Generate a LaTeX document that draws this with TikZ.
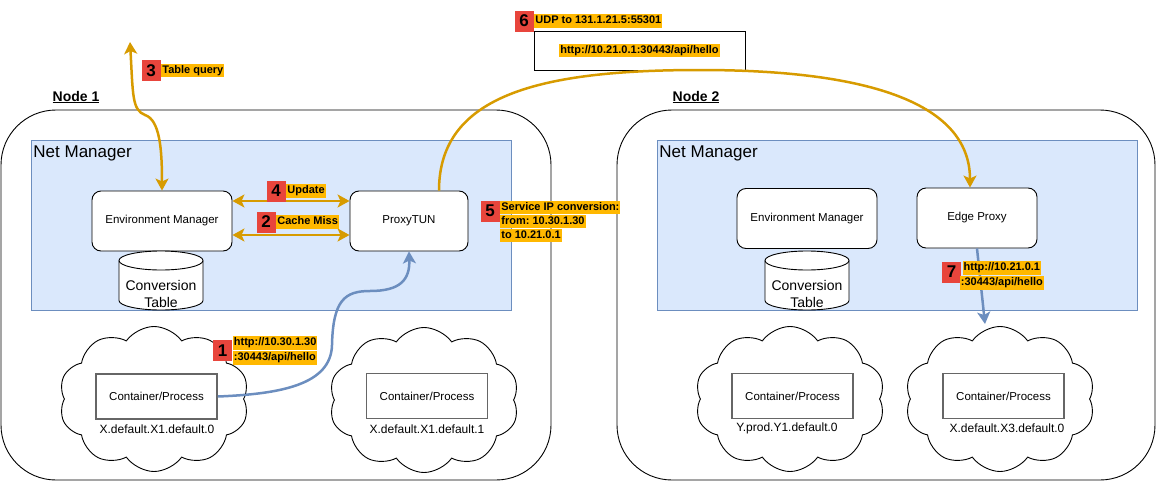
\documentclass[tikz,border=0pt]{standalone}
\usepackage{fontspec}
\setmainfont{Liberation Sans}
\usetikzlibrary{arrows.meta,shapes.symbols}
\definecolor{nmfill}{HTML}{DAE8FC}
\definecolor{nmline}{HTML}{6C8EBF}
\definecolor{flow}{HTML}{D79B00}
\definecolor{hlcol}{HTML}{FFB800}
\definecolor{numred}{HTML}{E8453C}
\definecolor{boxgray}{HTML}{666666}
\frenchspacing
\newcommand{\hlt}[1]{{\setlength{\fboxsep}{1pt}\colorbox{hlcol}{\rule[-3pt]{0pt}{11.5pt}#1}}}

\begin{document}
\begin{tikzpicture}[x=1pt,y=-1pt,line width=0.9pt,
  comp/.style={draw,rounded corners=9,fill=white,minimum height=60,font=\fontsize{11.5}{13}\selectfont},
  ctr/.style={draw=boxgray,line width=1.6pt,fill=white,minimum width=121,minimum height=45,font=\fontsize{11.5}{13}\selectfont},
  pod/.style={font=\fontsize{12}{14}\selectfont,inner sep=0},
  puff/.style={draw,fill=white,cloud,cloud puffs=10,cloud puff arc=110,cloud ignores aspect,minimum width=190,minimum height=145},
  storetxt/.style={font=\fontsize{14}{17}\selectfont,align=center,inner sep=0},
  num/.style={fill=numred,font=\bfseries\fontsize{17}{17}\selectfont,minimum width=19,minimum height=21,inner sep=0},
  note/.style={font=\bfseries\fontsize{11}{14.2}\selectfont,inner sep=0,align=left},
  ctrl/.style={draw=flow,line width=2.5pt,>={Stealth[length=12pt,width=13pt,inset=3pt]}},
  data/.style={draw=nmline,line width=2.5pt,>={Stealth[length=12pt,width=13pt,inset=3pt]}}]
\useasboundingbox (0,0) rectangle (1157,482);
\draw [rounded corners=55] (1,110) rectangle (551,480);
\draw [rounded corners=55] (617,110) rectangle (1155,480);
\node[font=\bfseries\fontsize{14}{16}\selectfont] (title1) at (76,97) {\underline{Node 1}};
\node[font=\bfseries\fontsize{14}{16}\selectfont] (title2) at (696,97) {\underline{Node 2}};
\draw [fill=nmfill,draw=nmline] (31,140) rectangle (511,310);
\draw [fill=nmfill,draw=nmline] (657,140) rectangle (1137,310);
\node[anchor=north west,font=\fontsize{17}{19}\selectfont,inner sep=2] (nm1) at (31,143) {Net Manager};
\node[anchor=north west,font=\fontsize{17}{19}\selectfont,inner sep=2] (nm2) at (657,143) {Net Manager};

\node[comp,minimum width=140] (envm1) at (162,221) {Environment Manager};
\node[comp,minimum width=118] (proxy) at (409,221) {ProxyTUN};
\node[comp,minimum width=140] (envm2) at (807,218.5) {Environment Manager};
\node[comp,minimum width=120] (edge) at (977,218) {Edge Proxy};
\foreach \cx in {161,807} {
  \draw [fill=white] (\cx-42,260.5) -- (\cx-42,300.5) arc[start angle=180,end angle=360,x radius=42pt,y radius=9.5pt]
    -- (\cx+42,260.5) arc[start angle=0,end angle=180,x radius=42pt,y radius=9.5pt] -- cycle;
  \draw (\cx-42,260.5) arc[start angle=180,end angle=360,x radius=42pt,y radius=9.5pt];
}
\node[storetxt] (tabtxt1) at (161,294) {Conversion\\Table};
\node[storetxt] (tabtxt2) at (807,294) {Conversion\\Table};

\node[puff] (cloud1) at (154,399) {};
\node[ctr] (ctr1) at (156.5,396.5) {Container/Process};
\node[pod] (pod1) at (157,429) {X.default.X1.default.0};
\node[puff] (cloud2) at (424,400) {};
\node[ctr] (ctr2) at (427,396) {Container/Process};
\node[pod] (pod2) at (427,429) {X.default.X1.default.1};
\node[puff] (cloud3) at (790,399) {};
\node[ctr] (ctr3) at (792.5,396) {Container/Process};
\node[pod] (pod3) at (787,428) {Y.prod.Y1.default.0};
\node[puff] (cloud4) at (1000,399) {};
\node[ctr] (ctr4) at (1003.5,396) {Container/Process};
\node[pod] (pod4) at (1007,428) {X.default.X3.default.0};

\node[draw,minimum width=211,minimum height=39,inner sep=0,font=\bfseries\fontsize{11}{14}\selectfont] (udp) at (639.5,50.5) {\hlt{http://10.21.0.1:30443/api/hello}};

\coordinate (q3) at (130,42);
\coordinate (tip7) at (985,324);
\draw [ctrl,<->] (q3) .. controls (133,95) and (132,110) .. (145,115) .. controls (160,120) and (162,150) .. (envm1.north);
\draw [ctrl,<->] ([yshift=20]envm1.east) -- ([yshift=20]proxy.west);
\draw [ctrl,<->] ([yshift=-14]envm1.east) -- ([yshift=-14]proxy.west);
\draw [ctrl,->] ([xshift=30]proxy.north) .. controls (439,95) and (540,70) .. (700,70) .. controls (860,70) and (970,100) .. ([xshift=-7]edge.north);
\draw [data,->] (ctr1.east) .. controls (280,394) and (331,385) .. (332,345) .. controls (333,300) and (345,291) .. (370,291) .. controls (400,291) and (410,280) .. (proxy.south);
\draw [data,->] (edge.south) -- (tip7);

\node[num] (n1) at (222.5,350.5) {1};
\node[note,anchor=west,font=\bfseries\fontsize{11}{15}\selectfont] (t1) at (n1.east) {\hlt{http://10.30.1.30}\\\hlt{:30443/api/hello}};
\node[num] (n2) at (266,222) {2};
\node[note,anchor=west] (t2) at (n2.east) {\hlt{Cache Miss}};
\node[num] (n3) at (151,70.5) {3};
\node[note,anchor=west] (t3) at (n3.east) {\hlt{Table query}};
\node[num] (n4) at (276,191) {4};
\node[note,anchor=west] (t4) at (n4.east) {\hlt{Update}};
\node[num] (n5) at (490,211) {5};
\node[note,anchor=north west] (t5) at (n5.north east) {\hlt{Service IP conversion:}\\\hlt{from: 10.30.1.30}\\\hlt{to 10.21.0.1}};
\node[num] (n6) at (524,21) {6};
\node[note,anchor=west] (t6) at (n6.east) {\hlt{UDP to 131.1.21.5:55301}};
\node[num] (n7) at (951.5,272) {7};
\node[note,anchor=west,align=center,font=\bfseries\fontsize{11}{15}\selectfont] (t7) at ([xshift=-2,yshift=-3.5]n7.east) {\hlt{http://10.21.0.1}\\\hlt{:30443/api/hello}};
\end{tikzpicture}
\end{document}
